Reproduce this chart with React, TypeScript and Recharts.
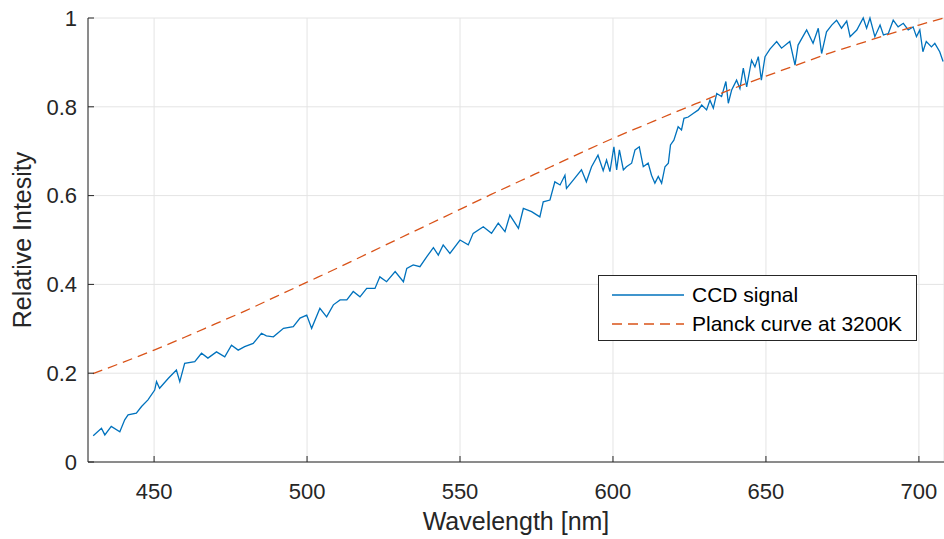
import { LineChart, Line, XAxis, YAxis, CartesianGrid } from "recharts";

const ccdWavelength = [
  430.1, 432.8, 433.9, 436.0, 438.8, 440.4, 441.5, 444.2, 445.9, 448.0,
  450.2, 450.8, 451.8, 454.6, 457.3, 458.4, 460.0, 463.3, 465.5, 467.6,
  470.4, 473.1, 475.3, 477.5, 479.6, 482.4, 485.1, 486.7, 489.0, 492.3,
  495.5, 497.7, 499.9, 501.5, 504.2, 506.4, 508.6, 510.8, 513.0, 515.1,
  517.3, 519.5, 522.2, 523.8, 526.0, 528.8, 531.5, 532.6, 534.7, 536.9,
  539.1, 541.3, 542.9, 544.5, 546.7, 550.0, 552.7, 554.3, 557.6, 560.3,
  562.5, 564.7, 566.3, 569.1, 570.7, 573.4, 576.1, 577.2, 579.4, 581.0,
  582.7, 584.3, 584.8, 587.0, 589.7, 591.3, 593.0, 595.1, 596.8, 597.9,
  599.0, 600.3, 601.2, 602.1, 603.4, 604.4, 606.1, 607.2, 608.6, 609.9,
  611.5, 612.6, 613.7, 614.8, 615.9, 617.0, 618.1, 618.8, 619.9, 621.3,
  622.4, 623.2, 624.6, 626.2, 627.9, 629.0, 630.6, 631.7, 632.8, 633.9,
  635.5, 636.9, 637.7, 638.8, 640.4, 641.5, 642.6, 643.7, 645.3, 646.4,
  647.5, 648.5, 649.7, 651.3, 653.5, 655.1, 657.8, 659.5, 660.5, 663.3,
  665.4, 667.1, 668.2, 669.8, 671.5, 673.1, 674.7, 676.4, 677.5, 679.7,
  681.8, 682.9, 684.0, 685.6, 687.3, 688.4, 690.0, 691.6, 693.2, 694.9,
  696.5, 698.1, 699.2, 700.3, 701.3, 702.4, 704.1, 705.2, 706.8, 707.9,
];

const ccdSignal = [
  0.059, 0.076, 0.061, 0.080, 0.068, 0.095, 0.106, 0.110, 0.125, 0.140,
  0.162, 0.181, 0.166, 0.188, 0.207, 0.181, 0.222, 0.226, 0.245, 0.234,
  0.248, 0.237, 0.263, 0.252, 0.260, 0.267, 0.290, 0.284, 0.282, 0.301,
  0.305, 0.324, 0.331, 0.301, 0.346, 0.327, 0.354, 0.365, 0.365, 0.384,
  0.372, 0.391, 0.391, 0.417, 0.406, 0.429, 0.406, 0.436, 0.444, 0.440,
  0.462, 0.483, 0.466, 0.489, 0.470, 0.500, 0.489, 0.515, 0.530, 0.515,
  0.538, 0.519, 0.556, 0.526, 0.571, 0.564, 0.552, 0.586, 0.590, 0.631,
  0.624, 0.646, 0.616, 0.635, 0.658, 0.631, 0.665, 0.691, 0.656, 0.680,
  0.654, 0.710, 0.658, 0.703, 0.658, 0.665, 0.673, 0.703, 0.710, 0.665,
  0.673, 0.646, 0.628, 0.643, 0.628, 0.665, 0.673, 0.714, 0.725, 0.755,
  0.748, 0.774, 0.777, 0.785, 0.793, 0.804, 0.793, 0.815, 0.797, 0.830,
  0.823, 0.857, 0.808, 0.838, 0.860, 0.841, 0.887, 0.845, 0.905, 0.890,
  0.913, 0.860, 0.913, 0.930, 0.947, 0.932, 0.947, 0.894, 0.939, 0.973,
  0.943, 0.977, 0.920, 0.969, 0.984, 0.995, 0.977, 0.993, 0.958, 0.973,
  1.0, 0.977, 1.0, 0.958, 0.984, 0.962, 0.965, 0.995, 0.980, 0.988,
  0.973, 0.980, 0.958, 0.973, 0.924, 0.947, 0.935, 0.943, 0.924, 0.902,
];

const planckWavelength = [
  430, 440, 450, 460, 470, 480, 490, 500, 510, 520, 530, 540, 550, 560, 570,
  580, 590, 600, 610, 620, 630, 640, 650, 660, 670, 680, 690, 700, 708,
];

const planckValue = [
  0.199, 0.225, 0.252, 0.281, 0.311, 0.341, 0.373, 0.405, 0.437, 0.470, 0.503,
  0.536, 0.569, 0.602, 0.634, 0.666, 0.698, 0.729, 0.758, 0.787, 0.815, 0.843,
  0.869, 0.894, 0.919, 0.941, 0.963, 0.984, 1.0,
];

const xTicks = [450, 500, 550, 600, 650, 700];
const yTicks = [0, 0.2, 0.4, 0.6, 0.8, 1];

const legendLabels = ["CCD signal", "Planck curve at 3200K"];

const ccdData = ccdWavelength.map((w, i) => ({ w, v: ccdSignal[i] }));
const planckData = planckWavelength.map((w, i) => ({ w, v: planckValue[i] }));

const FONT = "'Liberation Sans', Arial, sans-serif";
const TEXT = "#262626";
const BLUE = "#0072BD";
const ORANGE = "#D95319";
const DASH = "10 6";

// MATLAB-style legend box sitting inside the axes
function ChartLegend() {
  const rows = [
    { label: legendLabels[0], color: BLUE, dash: undefined },
    { label: legendLabels[1], color: ORANGE, dash: DASH },
  ];
  return (
    <div
      style={{
        position: "absolute",
        left: 598,
        top: 275,
        width: 319,
        height: 66,
        border: "1px solid #262626",
        background: "#fff",
        boxSizing: "border-box",
        padding: "4px 0 0 13px",
        fontFamily: FONT,
        fontSize: 21,
        color: "#000",
      }}
    >
      {rows.map((r) => (
        <div key={r.label} style={{ display: "flex", alignItems: "center", height: 29 }}>
          <svg width={73} height={10} style={{ marginRight: 7 }}>
            <line x1={0} y1={5} x2={72} y2={5} stroke={r.color} strokeWidth={1.3} strokeDasharray={r.dash} />
          </svg>
          <span>{r.label}</span>
        </div>
      ))}
    </div>
  );
}

export default function App() {
  return (
    <div style={{ position: "absolute", left: 0, top: 0, width: 944, height: 539, background: "#fff" }}>
      <LineChart width={944} height={539} margin={{ top: 18, right: 0, bottom: 0, left: 0 }}>
        <CartesianGrid stroke="#e4e4e4" strokeWidth={1} />
        <XAxis
          dataKey="w"
          type="number"
          domain={[428.4, 708.2]}
          allowDataOverflow
          ticks={xTicks}
          height={77}
          stroke={TEXT}
          tickSize={-6}
          tickMargin={27}
          tick={{ fill: TEXT, fontSize: 22, fontFamily: FONT }}
          label={{
            value: "Wavelength [nm]",
            position: "insideBottom",
            offset: 9,
            style: { fill: TEXT, fontSize: 25, fontFamily: FONT },
          }}
        />
        <YAxis
          dataKey="v"
          type="number"
          domain={[0, 1]}
          ticks={yTicks}
          width={88}
          stroke={TEXT}
          tickSize={-6}
          tickMargin={17}
          tick={{ fill: TEXT, fontSize: 22, fontFamily: FONT }}
          label={{
            value: "Relative Intesity",
            angle: -90,
            position: "insideLeft",
            offset: 22,
            style: { fill: TEXT, fontSize: 25, fontFamily: FONT, textAnchor: "middle" },
          }}
        />
        <Line
          data={ccdData}
          dataKey="v"
          type="linear"
          stroke={BLUE}
          strokeWidth={1.3}
          dot={false}
          isAnimationActive={false}
        />
        <Line
          data={planckData}
          dataKey="v"
          type="monotone"
          stroke={ORANGE}
          strokeWidth={1.3}
          strokeDasharray={DASH}
          dot={false}
          isAnimationActive={false}
        />
      </LineChart>
      <ChartLegend />
    </div>
  );
}
